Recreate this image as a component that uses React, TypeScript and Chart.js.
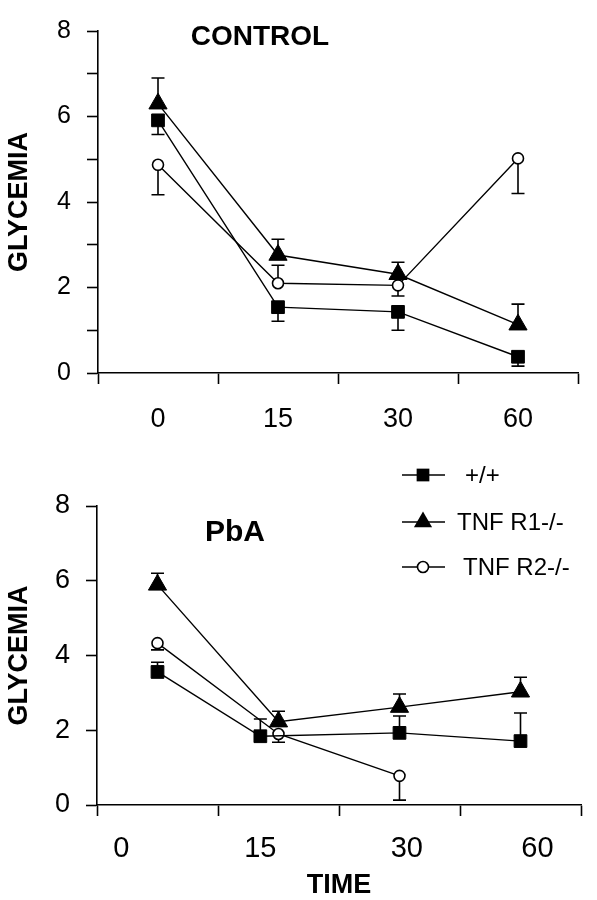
import { useEffect, useRef } from 'react';
import { Chart, registerables } from 'chart.js';

Chart.register(...registerables);

const FONT = '"Liberation Sans", Arial, Helvetica, sans-serif';

// Categories and series names
const timeLabels = ['0', '15', '30', '60'];
const seriesNames = ['+/+', 'TNF R1-/-', 'TNF R2-/-'];
const pointStyles = ['rect', 'triangle', 'circle'];

// CONTROL panel (x = category slot position, y = glycemia, err = whisker end)
const controlX = [0.5, 1.5, 2.5, 3.5];
const controlWT = [5.91, 1.54, 1.43, 0.38];
const controlWTErr = [5.58, 1.21, 1.0, 0.16];
const controlR1 = [6.3, 2.76, 2.31, 1.13];
const controlR1Err = [6.9, 3.13, 2.59, 1.61];
const controlR2 = [4.87, 2.1, 2.05, 5.02];
const controlR2Err = [4.17, 2.52, 1.8, 4.2];
const controlLabelPos = [0.5, 1.5, 2.5, 3.5];

// PbA panel
const pbaXWT = [0.5, 1.35, 2.5, 3.5];
const pbaX = [0.5, 1.5, 2.5, 3.5];
const pbaWT = [3.56, 1.84, 1.93, 1.71];
const pbaWTErr = [3.82, 2.3, 2.38, 2.46];
const pbaR1 = [5.89, 2.23, 2.62, 3.03];
const pbaR1Err = [6.2, 2.51, 2.97, 3.42];
const pbaR2 = [4.33, 1.9, 0.78, null];
const pbaR2Err = [4.15, 1.68, 0.13, null];
const pbaLabelPos = [0.2, 1.35, 2.56, 3.64];

const yTicksLabelled = [0, 2, 4, 6, 8];

function makeData(xs: number[], ys: (number | null)[], errs: (number | null)[]) {
  return xs.map((x, i) => ({ x, y: ys[i], err: errs[i] }));
}

function makeDataset(idx: number, data: any[]) {
  const style = pointStyles[idx];
  return {
    label: seriesNames[idx],
    data,
    borderColor: '#000',
    borderWidth: 1.4,
    pointStyle: style,
    pointRadius: style === 'rect' ? 9 : style === 'triangle' ? 10.5 : 5.5,
    pointBackgroundColor: style === 'circle' ? '#fff' : '#000',
    pointBorderColor: '#000',
    pointBorderWidth: style === 'circle' ? 1.6 : 1,
    tension: 0,
    spanGaps: false,
    fill: false,
  };
}

const errorBarPlugin = {
  id: 'errorBars',
  beforeDatasetsDraw(chart: any) {
    const ctx = chart.ctx;
    const xs = chart.scales.x;
    const ys = chart.scales.y;
    ctx.save();
    ctx.strokeStyle = '#000';
    ctx.lineWidth = 1.6;
    chart.data.datasets.forEach((ds: any) => {
      ds.data.forEach((p: any) => {
        if (p.y == null || p.err == null) return;
        const px = xs.getPixelForValue(p.x);
        const py = ys.getPixelForValue(p.y);
        const pe = ys.getPixelForValue(p.err);
        ctx.beginPath();
        ctx.moveTo(px, py);
        ctx.lineTo(px, pe);
        ctx.moveTo(px - 6.5, pe);
        ctx.lineTo(px + 6.5, pe);
        ctx.stroke();
      });
    });
    ctx.restore();
  },
};

const panelTitlePlugin = {
  id: 'panelTitle',
  afterDraw(chart: any, _args: any, opts: any) {
    if (!opts || !opts.text) return;
    const ctx = chart.ctx;
    ctx.save();
    ctx.fillStyle = '#000';
    ctx.font = `bold ${opts.size}px ${FONT}`;
    ctx.textAlign = 'center';
    ctx.textBaseline = 'middle';
    ctx.fillText(opts.text, opts.x, opts.y);
    ctx.restore();
  },
};

function drawMarker(ctx: CanvasRenderingContext2D, style: string, x: number, y: number) {
  ctx.beginPath();
  if (style === 'rect') {
    const s = 9 * Math.SQRT1_2;
    ctx.rect(x - s, y - s, 2 * s, 2 * s);
    ctx.fillStyle = '#000';
    ctx.fill();
  } else if (style === 'triangle') {
    const r = 10.5;
    ctx.moveTo(x, y - r);
    ctx.lineTo(x + r * Math.sin(Math.PI / 3), y + r * 0.5);
    ctx.lineTo(x - r * Math.sin(Math.PI / 3), y + r * 0.5);
    ctx.closePath();
    ctx.fillStyle = '#000';
    ctx.fill();
  } else {
    ctx.arc(x, y, 5.5, 0, Math.PI * 2);
    ctx.fillStyle = '#fff';
    ctx.fill();
    ctx.lineWidth = 1.6;
    ctx.strokeStyle = '#000';
    ctx.stroke();
  }
}

const legendPlugin = {
  id: 'customLegend',
  afterDraw(chart: any, _args: any, opts: any) {
    if (!opts || !opts.show) return;
    const ctx = chart.ctx;
    const rows = [25, 72, 117];
    const textX = [465, 457, 463];
    ctx.save();
    chart.data.datasets.forEach((ds: any, i: number) => {
      const y = rows[i];
      ctx.strokeStyle = '#000';
      ctx.lineWidth = 1.4;
      ctx.beginPath();
      ctx.moveTo(402, y);
      ctx.lineTo(445, y);
      ctx.stroke();
      drawMarker(ctx, ds.pointStyle, 423, y);
      ctx.fillStyle = '#000';
      ctx.font = `24px ${FONT}`;
      ctx.textAlign = 'left';
      ctx.textBaseline = 'middle';
      ctx.fillText(ds.label, textX[i], y + 1);
    });
    ctx.restore();
  },
};

function makeConfig(opts: {
  datasets: any[];
  labelPos: number[];
  yStep: number;
  yFont: number;
  xFont: number;
  xPad: number;
  yWidth: number;
  xHeight: number;
  padTop: number;
  padRight: number;
  showTime: boolean;
  title: { text: string; x: number; y: number; size: number };
  legend: boolean;
}) {
  const { labelPos } = opts;
  return {
    type: 'line',
    data: { datasets: opts.datasets },
    plugins: [errorBarPlugin, panelTitlePlugin, legendPlugin],
    options: {
      responsive: false,
      animation: false,
      devicePixelRatio: 1,
      layout: { padding: { top: opts.padTop, right: opts.padRight, left: 0, bottom: 0 } },
      plugins: {
        legend: { display: false },
        tooltip: { enabled: false },
        panelTitle: opts.title,
        customLegend: { show: opts.legend },
      },
      scales: {
        x: {
          type: 'linear',
          min: 0,
          max: 4,
          afterBuildTicks: (s: any) => {
            s.ticks = [0, 1, 2, 3, 4, ...labelPos].sort((a, b) => a - b).map((v) => ({ value: v }));
          },
          afterFit: (s: any) => {
            s.height = opts.xHeight;
          },
          ticks: {
            autoSkip: false,
            maxRotation: 0,
            minRotation: 0,
            color: '#000',
            padding: opts.xPad,
            font: { family: FONT, size: opts.xFont },
            callback: (v: number) => {
              const i = labelPos.indexOf(v);
              return i >= 0 ? timeLabels[i] : '';
            },
          },
          grid: {
            drawOnChartArea: false,
            tickLength: 11,
            tickWidth: 1.6,
            tickColor: (c: any) => (c.tick && labelPos.includes(c.tick.value) ? 'rgba(0,0,0,0)' : '#000'),
          },
          border: { color: '#000', width: 1.6 },
          title: {
            display: opts.showTime,
            text: 'TIME',
            color: '#000',
            font: { family: FONT, size: 27, weight: 'bold', lineHeight: 1 },
            padding: { top: 0, bottom: 0.5 },
          },
        },
        y: {
          min: 0,
          max: 8,
          afterFit: (s: any) => {
            s.width = opts.yWidth;
          },
          ticks: {
            stepSize: opts.yStep,
            color: '#000',
            padding: 16,
            font: { family: FONT, size: opts.yFont },
            callback: (v: number) => (yTicksLabelled.includes(v) ? String(v) : ''),
          },
          grid: { drawOnChartArea: false, tickLength: 11, tickWidth: 1.6, tickColor: '#000' },
          border: { color: '#000', width: 1.6 },
          title: {
            display: true,
            text: 'GLYCEMIA',
            color: '#000',
            font: { family: FONT, size: 27, weight: 'bold', lineHeight: 1.2 },
            padding: { top: 3, bottom: 0 },
          },
        },
      },
    },
  } as any;
}

export default function App() {
  const topRef = useRef<HTMLCanvasElement>(null);
  const botRef = useRef<HTMLCanvasElement>(null);

  useEffect(() => {
    document.body.style.margin = '0';
    const topCfg = makeConfig({
      datasets: [
        makeDataset(0, makeData(controlX, controlWT, controlWTErr)),
        makeDataset(1, makeData(controlX, controlR1, controlR1Err)),
        makeDataset(2, makeData(controlX, controlR2, controlR2Err)),
      ],
      labelPos: controlLabelPos,
      yStep: 1,
      yFont: 25,
      xFont: 27,
      xPad: 19,
      yWidth: 98,
      xHeight: 77,
      padTop: 14,
      padRight: 11,
      showTime: false,
      title: { text: 'CONTROL', x: 260, y: 37, size: 28 },
      legend: false,
    });
    const botCfg = makeConfig({
      datasets: [
        makeDataset(0, makeData(pbaXWT, pbaWT, pbaWTErr)),
        makeDataset(1, makeData(pbaX, pbaR1, pbaR1Err)),
        makeDataset(2, makeData(pbaX, pbaR2, pbaR2Err)),
      ],
      labelPos: pbaLabelPos,
      yStep: 2,
      yFont: 27,
      xFont: 29,
      xPad: 16,
      yWidth: 97,
      xHeight: 95,
      padTop: 56,
      padRight: 4,
      showTime: true,
      title: { text: 'PbA', x: 235, y: 83, size: 30 },
      legend: true,
    });
    const c1 = new Chart(topRef.current as HTMLCanvasElement, topCfg);
    const c2 = new Chart(botRef.current as HTMLCanvasElement, botCfg);
    return () => {
      c1.destroy();
      c2.destroy();
    };
  }, []);

  return (
    <div style={{ position: 'relative', width: 597, height: 900, background: '#fff' }}>
      <canvas ref={topRef} width={597} height={450} style={{ position: 'absolute', left: 0, top: 0 }} />
      <canvas ref={botRef} width={597} height={450} style={{ position: 'absolute', left: 0, top: 450 }} />
    </div>
  );
}
